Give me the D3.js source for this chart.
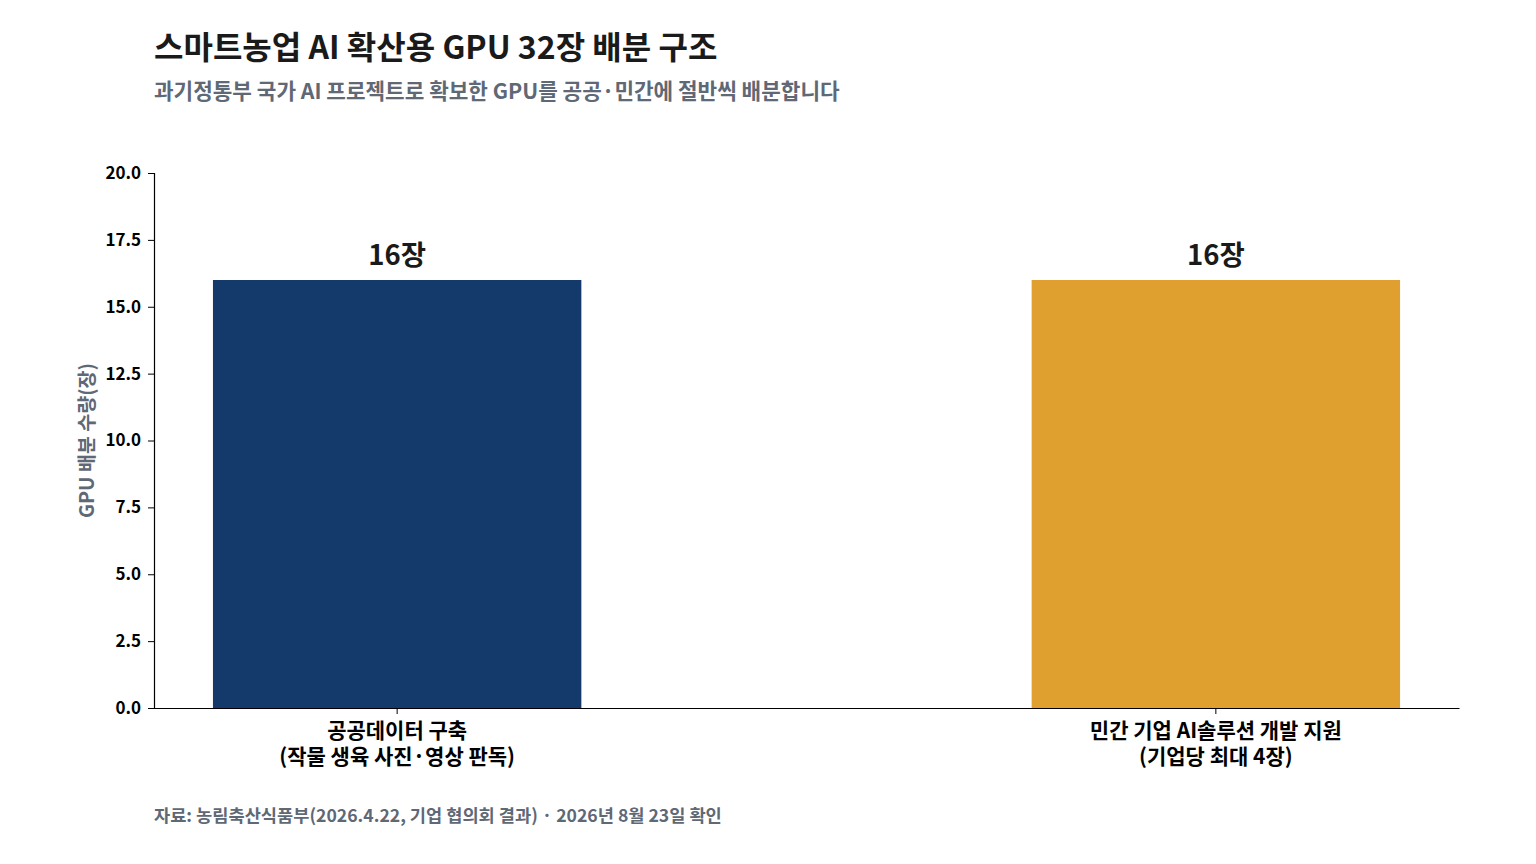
<!DOCTYPE html>
<html>
<head>
<meta charset="utf-8">
<script src="https://cdn.jsdelivr.net/npm/d3@7"></script>
<style>
  body { margin: 0; background: #fff; }
  svg { display: block; font-family: "Noto Sans CJK KR", "Noto Sans", sans-serif; font-weight: 700; }
</style>
</head>
<body>
<svg width="1536" height="864"></svg>
<script>
// Data
const categories = ["공공데이터 구축\n(작물 생육 사진·영상 판독)", "민간 기업 AI솔루션 개발 지원\n(기업당 최대 4장)"];
const gpuCounts = [16, 16];
const barColors = ["#143a6b", "#dfa030"];
const yTicks = [0, 2.5, 5, 7.5, 10, 12.5, 15, 17.5, 20];

const svg = d3.select("svg");
const margin = {top: 173, right: 77, bottom: 156, left: 154};
const width = 1536 - margin.left - margin.right,
  height = 864 - margin.top - margin.bottom;

// Titles
svg.append("text")
    .attr("x", 154).attr("y", 59)
    .attr("font-size", 32).attr("fill", "#1a1a1a")
    .text("스마트농업 AI 확산용 GPU 32장 배분 구조");
svg.append("text")
    .attr("x", 154).attr("y", 99)
    .attr("font-size", 21.3).attr("fill", "#5f6875")
    .text("과기정통부 국가 AI 프로젝트로 확보한 GPU를 공공·민간에 절반씩 배분합니다");

const g = svg.append("g").attr("transform", `translate(${margin.left},${margin.top})`);

// Scales
const x = d3.scaleBand()
    .domain(categories)
    .range([0, width])
    .paddingInner(0.55)
    .paddingOuter(0.072);
const y = d3.scaleLinear().domain([0, 20]).range([height, 0]);

// Bars
g.selectAll("rect.bar")
    .data(categories)
    .enter().append("rect")
    .attr("class", "bar")
    .attr("x", d => x(d))
    .attr("y", (d, i) => y(gpuCounts[i]))
    .attr("width", x.bandwidth())
    .attr("height", (d, i) => height - y(gpuCounts[i]))
    .attr("fill", (d, i) => barColors[i]);

// Value labels
g.selectAll("text.val")
    .data(categories)
    .enter().append("text")
    .attr("class", "val")
    .attr("x", d => x(d) + x.bandwidth() / 2)
    .attr("y", (d, i) => y(gpuCounts[i]) - 15)
    .attr("text-anchor", "middle")
    .attr("font-size", 27.5).attr("fill", "#1a1a1a")
    .text((d, i) => gpuCounts[i] + "장");

// Y axis
const yAxis = g.append("g")
    .call(d3.axisLeft(y).tickValues(yTicks).tickFormat(d3.format(".1f")).tickSize(6).tickPadding(7));
yAxis.select(".domain").attr("stroke", "#000").attr("stroke-width", 1.2);
yAxis.selectAll(".tick line").attr("stroke", "#000");
yAxis.selectAll(".tick text")
    .attr("font-family", "'Noto Sans CJK KR', sans-serif")
    .attr("font-weight", 700).attr("font-size", 17).attr("fill", "#000");

// X axis
const xAxis = g.append("g")
    .attr("transform", `translate(0,${height})`)
    .call(d3.axisBottom(x).tickSize(6).tickSizeOuter(0).tickFormat(""));
xAxis.select(".domain").attr("stroke", "#000").attr("stroke-width", 1.2);
xAxis.selectAll(".tick line").attr("stroke", "#000");

xAxis.selectAll(".tick").each(function(d) {
  const lines = d.split("\n");
  const t = d3.select(this).append("text")
      .attr("text-anchor", "middle")
      .attr("font-family", "'Noto Sans CJK KR', sans-serif")
      .attr("font-weight", 700).attr("font-size", 21).attr("fill", "#000");
  lines.forEach((l, i) => {
    t.append("tspan").attr("x", 0).attr("y", 30 + i * 26).text(l);
  });
});

// Y axis label
svg.append("text")
    .attr("transform", `translate(94,${margin.top + height / 2}) rotate(-90)`)
    .attr("text-anchor", "middle")
    .attr("font-size", 19.5).attr("fill", "#5f6875")
    .text("GPU 배분 수량(장)");

// Footer
svg.append("text")
    .attr("x", 154).attr("y", 822)
    .attr("font-size", 17.6).attr("fill", "#5f6875")
    .text("자료: 농림축산식품부(2026.4.22, 기업 협의회 결과) · 2026년 8월 23일 확인");
</script>
</body>
</html>
